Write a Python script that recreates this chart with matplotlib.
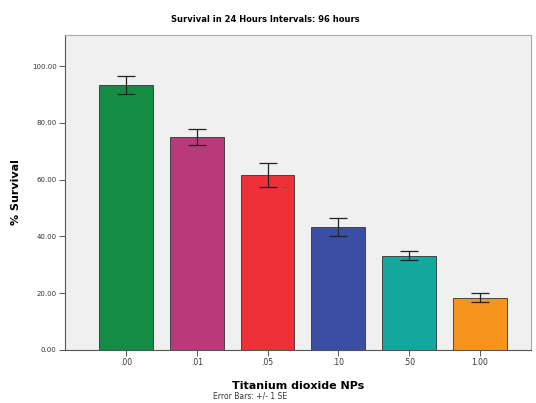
import matplotlib
matplotlib.use("Agg")
import matplotlib.pyplot as plt

# Mean survival (%) after 96 h per TiO2 nanoparticle concentration, with +/- 1 SE
concentrations = [".00", ".01", ".05", ".10", ".50", "1.00"]
survival = [93.3, 75.0, 61.7, 43.3, 33.3, 18.4]
se = [3.2, 2.9, 4.3, 3.3, 1.7, 1.6]
bar_colors = ["#148c45", "#b83a7c", "#ee3038", "#3a4ea3", "#14a89c", "#f7941e"]
y_ticks = [0, 20, 40, 60, 80, 100]

W, H = 536, 403
fig = plt.figure(figsize=(W / 100, H / 100), dpi=100)
fig.patch.set_facecolor("white")
ax = fig.add_axes([65 / W, 1 - 350 / H, (531 - 65) / W, (350 - 35) / H])
ax.set_facecolor("#f0f0f0")

x = list(range(len(concentrations)))
ax.bar(x, survival, width=0.76, color=bar_colors, edgecolor="#333333", linewidth=0.6, zorder=2)
ax.errorbar(x, survival, yerr=se, fmt="none", ecolor="#222222", elinewidth=0.9,
            capsize=6.5, capthick=0.9, zorder=3)

ax.set_xlim(-0.86, 5.72)
ax.set_ylim(0, 111)
ax.set_yticks(y_ticks)
ax.set_yticklabels([f"{v:.2f}" for v in y_ticks], fontsize=5, color="#333333")
ax.set_xticks(x)
ax.set_xticklabels(concentrations, fontsize=5.5, color="#333333")
ax.tick_params(axis="both", length=4, width=0.7, color="#555555", pad=2)

for side in ["top", "right"]:
    ax.spines[side].set_color("#aaaaaa")
    ax.spines[side].set_linewidth(0.8)
for side in ["left", "bottom"]:
    ax.spines[side].set_color("#555555")
    ax.spines[side].set_linewidth(0.8)

ax.set_ylabel("% Survival", fontsize=8, fontweight="bold", labelpad=8)
ax.set_xlabel("Titanium dioxide NPs", fontsize=8, fontweight="bold", labelpad=10)
fig.text(265 / W, 1 - 19 / H, "Survival in 24 Hours Intervals: 96 hours",
         ha="center", va="center", fontsize=6, fontweight="bold")
fig.text(213 / W, 1 - 396 / H, "Error Bars: +/- 1 SE", ha="left", va="center",
         fontsize=5.5, color="#333333")

fig.savefig("out.png", dpi=100)
